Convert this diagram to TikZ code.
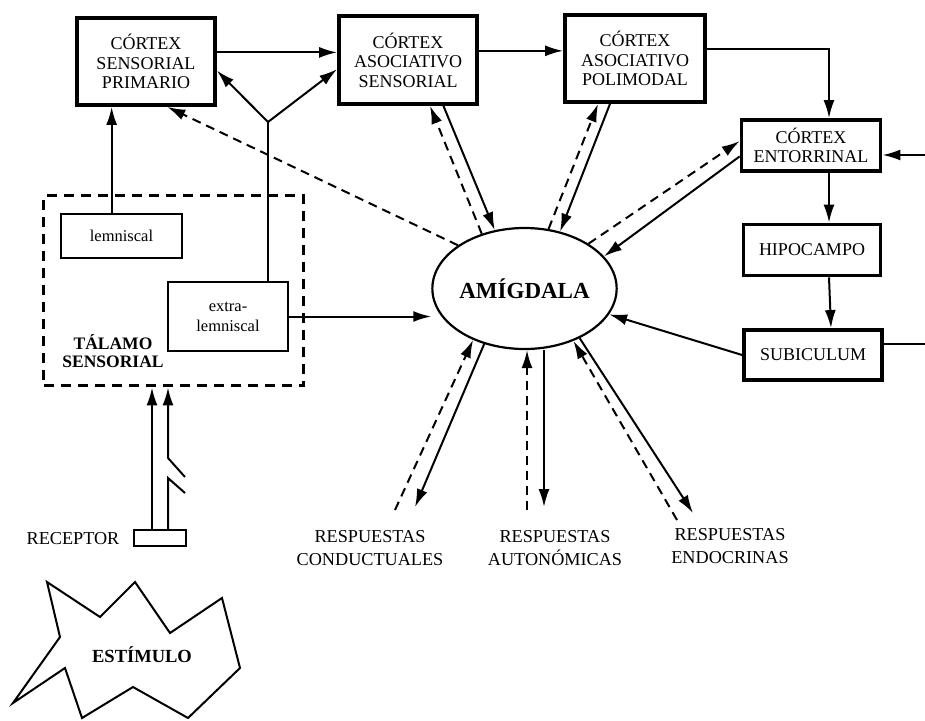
\documentclass[tikz,border=0pt]{standalone}
\usepackage{fontspec}
\setmainfont{Liberation Serif}
\usetikzlibrary{arrows.meta,shapes.geometric,calc}
\begin{document}
\begin{tikzpicture}[x=1pt,y=-1pt,
  box/.style={draw,line width=3.8pt,inner sep=0pt,align=center,font=\fontsize{18}{19.5}\selectfont},
  thinbox/.style={draw,line width=2.2pt,inner sep=0pt,align=center,font=\fontsize{16.5}{20}\selectfont},
  lbl/.style={inner sep=0pt,align=center,font=\fontsize{18.2}{23}\selectfont},
  conn/.style={line width=2pt},
  arr/.style={conn,-{Latex[length=18pt,width=11pt]}},
  darr/.style={arr,dash pattern=on 9pt off 6pt},
]
\useasboundingbox (0,0) rectangle (925,720);

% boxes
\node[box,minimum width=138pt,minimum height=87pt] (csp) at (146,61.5) {CÓRTEX\\SENSORIAL\\PRIMARIO};
\node[box,minimum width=138pt,minimum height=88pt] (cas) at (408,60) {CÓRTEX\\ASOCIATIVO\\SENSORIAL};
\node[box,minimum width=140pt,minimum height=87pt] (cap) at (635,58.5) {CÓRTEX\\ASOCIATIVO\\POLIMODAL};
\node[box,minimum width=139pt,minimum height=51pt] (cen) at (811,145.5) {CÓRTEX\\ENTORRINAL};
\node[box,minimum width=137pt,minimum height=51pt] (hip) at (812,250) {HIPOCAMPO};
\node[box,minimum width=138pt,minimum height=50pt] (sub) at (813,355) {SUBICULUM};
\node[draw,ellipse,line width=2.2pt,inner sep=0pt,minimum width=155pt,minimum height=121pt,
      font=\fontsize{23}{25}\selectfont\bfseries] (amy) at (524.5,288.5) {AMÍGDALA};

% thalamus
\node[draw,line width=3.8pt,dash pattern=on 10pt off 7pt,inner sep=0pt,
      minimum width=260pt,minimum height=190pt] (tal) at (173.5,290.5) {};
\node[thinbox,minimum width=121pt,minimum height=44pt] (lem) at (121.5,236) {lemniscal};
\node[thinbox,minimum width=120pt,minimum height=69pt] (ext) at (228,316.5) {extra-\\lemniscal};
\node[lbl,font=\fontsize{17.5}{18}\selectfont\bfseries] (talt) at (113,351) {TÁLAMO\\SENSORIAL};

% receptor and stimulus
\node[draw,line width=2pt,inner sep=0pt,minimum width=52pt,minimum height=16pt] (rec) at (160,538) {};
\node[lbl] (rect) at (73,539) {RECEPTOR};
\draw[line width=2pt,line join=miter] (47,582) -- (100,617) -- (135,582) -- (170,633) -- (222,598)
  -- (240,668) -- (188,718) -- (133,687) -- (82,718) -- (65,668) -- (13,703) -- (60,637) -- cycle;
\node[lbl,font=\fontsize{18.5}{20}\selectfont\bfseries] (est) at (142,655) {ESTÍMULO};

% responses
\node[lbl] (rc) at (370,548) {RESPUESTAS\\CONDUCTUALES};
\node[lbl] (ra) at (555,548) {RESPUESTAS\\AUTONÓMICAS};
\node[lbl] (re) at (730,546) {RESPUESTAS\\ENDOCRINAS};

% free-end coordinates
\coordinate (inR) at (925,155);
\coordinate (outR) at (925,344);
\coordinate (jn) at (268,122);

% cortical chain
\draw[arr] ($(csp.north east)!0.4!(csp.south east)$) coordinate (p1) -- (p1 -| cas.west);
\draw[arr] ($(cas.north east)!0.4!(cas.south east)$) coordinate (p2) -- (p2 -| cap.west);
\draw[arr] ($(cap.north east)!0.4!(cap.south east)$) -| ($(cen.north)+(18,0)$);
\draw[arr] ($(cen.south)+(18,0)$) -- ($(hip.north)+(17,0)$);
\draw[arr] ($(hip.south)+(17,0)$) -- ($(sub.north)+(18,0)$);
\draw[arr] (inR) -- (inR -| cen.east);
\draw[conn] (sub.east |- outR) -- (outR);

% thalamus to cortex
\coordinate (lt) at ($(lem.north west)!0.42!(lem.north east)$);
\draw[arr] (lt) -- (lt |- csp.south);
\draw[conn] (ext.north -| jn) -- (jn);
\draw[arr] (jn) -- ($(csp.north east)!0.6!(csp.south east)$);
\draw[arr] (jn) -- ($(cas.north west)!0.6!(cas.south west)$);
\draw[arr] (ext.east) -- (ext.east -| amy.west);

% amygdala <-> cortex
\draw[darr] (amy.147) -- ($(csp.south east)!0.35!(csp.south west)$);
\draw[arr] ($(cas.south west)!0.75!(cas.south east)$) -- (amy.117);
\draw[darr] (amy.128) -- ($(cas.south west)!0.655!(cas.south east)$);
\draw[arr] ($(cap.south west)!0.326!(cap.south east)$) -- (amy.58);
\draw[darr] (amy.68) -- ($(cap.south west)!0.243!(cap.south east)$);
\draw[arr] ($(cen.north west)!0.7!(cen.south west)$) -- (amy.22);
\draw[darr] (amy.35) -- ($(cen.north west)!0.42!(cen.south west)$);
\draw[arr] (sub.west) -- (amy.-17);

% amygdala <-> responses
\coordinate (c1) at ($(rc.center)+(45,-41)$);
\coordinate (c2) at ($(rc.center)+(25,-38)$);
\draw[arr] (amy.-126) -- (c1);
\draw[darr] (c2) -- (amy.-135);
\coordinate (a1) at ($(ra.center)+(-28,-38)$);
\coordinate (a2) at ($(ra.center)+(-11,-41)$);
\draw[darr] (a1) -- (a1 |- amy.south);
\draw[arr] (a2 |- amy.south) -- (a2);
\coordinate (e1) at ($(re.center)+(-53,-26)$);
\coordinate (e2) at ($(re.center)+(-37,-33)$);
\draw[darr] (e1) -- (amy.-47);
\draw[arr] (amy.-42) -- (e2);

% receptor to thalamus
\coordinate (r1) at ($(rec.north)+(-8,0)$);
\coordinate (r2) at ($(rec.north)+(8,0)$);
\draw[arr] (r1) -- (r1 |- tal.south);
\draw[conn] (r2) -- ++(0,-51) -- ++(17,15);
\draw[arr] ($(r2)+(17,-52)$) -- ++(-17,-19) -- (r2 |- tal.south);
\end{tikzpicture}
\end{document}
